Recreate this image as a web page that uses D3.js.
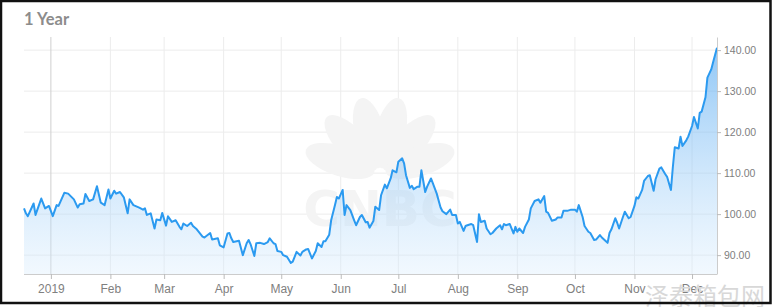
<!DOCTYPE html>
<html>
<head>
<meta charset="utf-8">
<script src="https://cdn.jsdelivr.net/npm/d3@7"></script>
<style>
body { margin:0; background:#fff; }
svg { display:block; }
</style>
</head>
<body>
<div id="chart"></div>
<script>

// first day on the chart, the rest are day offsets from it
var startDate = "2018-12-18";
var lastOffset = 361;

// day offsets of the points
var dayOffsets = [
	0,1,2,5,6,9,11,13,15,17,
	18,21,23,26,28,29,31,32,34,36,
	38,40,42,44,45,47,48,50,52,54,
	55,57,60,62,63,64,66,68,69,71,
	72,74,75,77,79,81,82,83,85,87,
	88,90,93,94,97,98,101,102,104,106,
	107,108,109,112,114,116,117,118,120,121,
	123,125,127,128,130,131,132,134,135,137,
	139,140,142,144,145,147,148,150,152,153,
	155,156,157,159,160,162,163,164,166,167,
	168,170,172,173,175,176,178,179,180,182,
	183,185,186,188,189,191,192,194,195,197,
	198,199,201,202,203,205,206,207,209,210,
	212,213,215,217,218,220,222,223,225,226,
	227,229,230,231,233,234,236,237,238,240,
	241,243,244,246,248,249,250,251,253,255,
	256,257,258,260,261,263,264,266,268,269,
	271,272,273,275,277,278,280,281,283,285,
	287,288,289,291,292,294,295,297,298,300,
	301,304,305,306,308,309,310,312,313,315,
	316,318,319,320,322,323,325,326,328,329,
	331,332,334,335,337,338,339,341,342,343,
	345,346,348,349,351,352,353,355,356,358,
	359,361
];

// closing price
var closes = [
	101.4,100.2,99.5,102.6,99.8,103.8,101.4,102.0,99.5,102.2,
	102.0,105.2,105.0,103.6,101.6,102.4,102.6,104.9,103.2,103.6,
	106.8,102.8,102.2,106.0,103.8,105.7,105.0,105.4,104.1,100.2,
	103.6,102.2,101.6,101.1,101.4,99.8,100.2,96.5,98.7,98.5,
	100.3,97.2,99.5,98.1,98.5,96.9,96.3,97.7,97.1,97.9,
	97.1,96.3,94.5,94.3,95.4,93.8,94.1,92.4,91.9,95.3,
	95.4,94.1,93.2,93.5,90.0,92.9,93.7,92.7,89.8,92.9,
	93.0,92.7,93.2,94.1,92.9,92.7,91.0,90.8,90.0,89.6,
	88.1,88.4,90.8,89.9,90.8,91.4,91.5,89.2,91.0,92.9,
	92.0,93.4,93.4,95.0,98.5,102.2,104.2,103.8,105.9,99.8,
	102.2,101.0,98.5,97.3,99.3,99.8,98.0,98.1,96.7,98.3,
	101.8,101.0,104.6,107.2,106.3,108.7,110.7,110.2,112.8,113.6,
	112.4,109.5,106.4,106.9,106.1,106.7,106.7,110.7,105.4,106.7,
	108.7,107.5,105.0,101.6,100.7,100.0,101.1,99.8,99.8,97.7,
	98.1,95.9,97.1,97.3,97.6,97.3,93.2,100.0,98.1,98.4,
	96.5,95.1,95.4,96.5,97.3,96.3,97.6,97.3,97.6,95.3,
	96.9,95.7,96.5,95.4,96.9,98.7,101.4,103.2,103.6,102.8,
	104.4,100.6,100.3,98.4,98.7,99.2,99.2,100.8,100.8,101.1,
	101.1,100.6,102.2,99.3,97.1,95.7,95.4,93.7,93.8,94.9,
	94.3,93.0,95.4,96.3,99.0,97.9,96.5,99.3,100.6,99.0,
	99.3,102.0,104.1,103.8,105.9,108.1,109.3,109.5,105.7,108.5,
	111.1,111.4,109.8,109.1,105.9,111.5,116.3,116.0,118.9,116.6,
	118.0,118.9,121.5,123.7,120.9,124.7,125.0,128.5,133.3,135.3,
	137.1,140.6
];

// axis ticks
var yTicks = [90, 100, 110, 120, 130, 140];
var monthTicks = ["2019-01-01","2019-02-01","2019-03-01","2019-04-01","2019-05-01","2019-06-01",
	"2019-07-01","2019-08-01","2019-09-01","2019-10-01","2019-11-01","2019-12-01"];
var monthLabels = ["2019","Feb","Mar","Apr","May","Jun","Jul","Aug","Sep","Oct","Nov","Dec"];


// chart options
var width = 772, height = 307;
var plot = { left: 24, right: 717, top: 37, bottom: 274 };

var parse = d3.timeParse("%Y-%m-%d");
var start = parse(startDate);

var data = dayOffsets.map(function(d, i){
	return { date: d3.timeDay.offset(start, d), value: closes[i] };
});
var monthDates = monthTicks.map(parse);

var x = d3.scaleTime()
	.domain([start, d3.timeDay.offset(start, lastOffset)])
	.range([plot.left, plot.right]);

var y = d3.scaleLinear()
	.domain([85.4, 143.2])
	.range([plot.bottom, plot.top]);

var svg = d3.select("#chart").append("svg")
	.attr("width", width)
	.attr("height", height);

svg.append("rect")
	.attr("width", width).attr("height", height)
	.attr("fill", "#fff");

// gradient for the area
var grad = svg.append("defs").append("linearGradient")
	.attr("id", "areaGrad")
	.attr("gradientUnits", "userSpaceOnUse")
	.attr("x1", 0).attr("x2", 0)
	.attr("y1", y(140)).attr("y2", plot.bottom);
grad.append("stop").attr("offset", "0%").attr("stop-color", "#4aa3f0").attr("stop-opacity", 0.6);
grad.append("stop").attr("offset", "100%").attr("stop-color", "#d8ecfd").attr("stop-opacity", 0.35);

// title
svg.append("text")
	.attr("x", 24).attr("y", 25)
	.attr("font-family", "Lato, 'Open Sans', sans-serif")
	.attr("font-weight", "bold")
	.attr("font-size", "16.5px")
	.attr("fill", "#8c8c8c")
	.text("1 Year");

// grid
svg.append("g").selectAll("line")
	.data(yTicks)
	.enter().append("line")
	.attr("x1", plot.left).attr("x2", plot.right)
	.attr("y1", function(d){ return y(d); })
	.attr("y2", function(d){ return y(d); })
	.attr("stroke", "#ececec");

svg.append("g").selectAll("line")
	.data(monthDates)
	.enter().append("line")
	.attr("x1", function(d){ return x(d); })
	.attr("x2", function(d){ return x(d); })
	.attr("y1", plot.top).attr("y2", plot.bottom)
	.attr("stroke", function(d, i){ return i == 0 ? "#cfcfcf" : "#ececec"; });

// cnbc watermark
var wm = svg.append("g").attr("fill", "#f4f4f4");
[-72, -43, -14, 14, 43, 72].forEach(function(a){
	wm.append("ellipse")
		.attr("cx", 0).attr("cy", -42)
		.attr("rx", 15).attr("ry", 36)
		.attr("transform", "translate(380,174) rotate(" + a + ")");
});
wm.append("text")
	.attr("x", 380).attr("y", 226)
	.attr("text-anchor", "middle")
	.attr("font-family", "'DejaVu Sans', sans-serif")
	.attr("font-weight", "bold")
	.attr("font-size", "50px")
	.text("CNBC");

// area + line
var area = d3.area()
	.x(function(d){ return x(d.date); })
	.y0(plot.bottom)
	.y1(function(d){ return y(d.value); });

var line = d3.line()
	.x(function(d){ return x(d.date); })
	.y(function(d){ return y(d.value); });

svg.append("path")
	.datum(data)
	.attr("d", area)
	.attr("fill", "url(#areaGrad)");

svg.append("path")
	.datum(data)
	.attr("d", line)
	.attr("fill", "none")
	.attr("stroke", "#2b9af0")
	.attr("stroke-width", 2)
	.attr("stroke-linejoin", "round");

// x axis
var xAxis = svg.append("g")
	.attr("transform", "translate(0," + plot.bottom + ")")
	.call(d3.axisBottom(x)
		.tickValues(monthDates)
		.tickFormat(function(d, i){ return monthLabels[i]; })
		.tickSize(5)
		.tickSizeOuter(0));
xAxis.select(".domain").attr("stroke", "#cccccc").attr("d", "M" + plot.left + ",0.5H" + plot.right);
xAxis.selectAll(".tick line").attr("stroke", "#bbbbbb");
xAxis.selectAll("text")
	.attr("font-family", "'Liberation Sans Narrow', 'Arial Narrow', sans-serif")
	.attr("font-size", "12px")
	.attr("fill", "#808080")
	.attr("dy", "0.95em");

// y axis on the right
var yAxis = svg.append("g")
	.attr("transform", "translate(" + plot.right + ",0)")
	.call(d3.axisRight(y)
		.tickValues(yTicks)
		.tickFormat(d3.format(".2f"))
		.tickSize(4)
		.tickSizeOuter(0));
yAxis.select(".domain").attr("stroke", "#cccccc");
yAxis.selectAll(".tick line").attr("stroke", "#bbbbbb");
yAxis.selectAll("text")
	.attr("font-family", "'Liberation Sans Narrow', 'Arial Narrow', sans-serif")
	.attr("font-size", "10.5px")
	.attr("fill", "#808080")
	.attr("x", 7);

// site watermark
svg.append("text")
	.attr("x", 645).attr("y", 305)
	.attr("font-family", "'Noto Sans CJK SC', sans-serif")
	.attr("font-size", "24px")
	.attr("fill", "#d8d8d8")
	.text("泽泰箱包网");

// frame
svg.append("rect")
	.attr("x", 1).attr("y", 1)
	.attr("width", 769.5).attr("height", 302)
	.attr("fill", "none")
	.attr("stroke", "#111")
	.attr("stroke-width", 2.5);

</script>
</body>
</html>
